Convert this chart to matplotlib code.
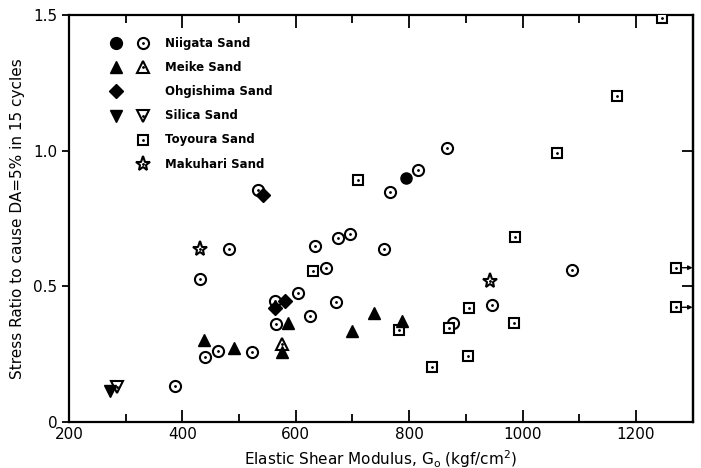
import matplotlib.pyplot as plt

plt.rcParams['font.family'] = ['DejaVu Sans']

# Niigata sand
niigata_open_g = [387, 440, 463, 522, 431, 483, 534, 563, 565, 604, 625, 634, 653,
                  671, 675, 696, 756, 766, 816, 866, 878, 947, 1087]
niigata_open_r = [0.132, 0.24, 0.261, 0.258, 0.526, 0.637, 0.855, 0.445, 0.36, 0.474,
                  0.39, 0.648, 0.568, 0.443, 0.677, 0.691, 0.636, 0.846, 0.928, 1.008,
                  0.363, 0.43, 0.56]
niigata_fill_g = [794]
niigata_fill_r = [0.90]

# Meike sand
meike_fill_g = [438, 491, 575, 587, 700, 738, 787]
meike_fill_r = [0.30, 0.271, 0.258, 0.363, 0.334, 0.40, 0.371]
meike_open_g = [575]
meike_open_r = [0.287]

# Ohgishima sand
ohgi_g = [543, 563, 581]
ohgi_r = [0.836, 0.419, 0.445]

# Silica sand
silica_fill_g = [272]
silica_fill_r = [0.114]
silica_open_g = [285]
silica_open_r = [0.127]

# Toyoura sand (last two are beyond the axis, marked with arrows)
toyoura_g = [630, 709, 783, 840, 871, 904, 906, 985, 987, 1061, 1166, 1246, 1270, 1270]
toyoura_r = [0.556, 0.892, 0.338, 0.203, 0.345, 0.243, 0.42, 0.365, 0.68, 0.992,
             1.201, 1.488, 0.568, 0.422]
toyoura_arrow = [False] * 12 + [True, True]

# Makuhari sand
makuhari_g = [431, 943]
makuhari_r = [0.636, 0.52]

legend_rows = [("o", "o", "Niigata Sand"),
               ("^", "^", "Meike Sand"),
               ("D", None, "Ohgishima Sand"),
               ("v", "v", "Silica Sand"),
               (None, "s", "Toyoura Sand"),
               (None, "*", "Makuhari Sand")]

open_kw = dict(ls='none', mfc='white', mec='black', mew=1.5)
fill_kw = dict(ls='none', color='black')
dot_kw = dict(ls='none', marker='.', color='black', ms=2)


def open_points(ax, g, r, marker, ms):
    ax.plot(g, r, marker=marker, ms=ms, zorder=3, **open_kw)
    ax.plot(g, r, zorder=3.5, **dot_kw)


fig = plt.figure(figsize=(7.01, 4.68), dpi=100)
ax = fig.add_axes([0.0984, 0.0989, 0.8896, 0.8691])

open_points(ax, niigata_open_g, niigata_open_r, 'o', 8)
open_points(ax, toyoura_g, toyoura_r, 's', 7.5)
open_points(ax, makuhari_g, makuhari_r, '*', 11)
open_points(ax, meike_open_g, meike_open_r, '^', 8)
open_points(ax, silica_open_g, silica_open_r, 'v', 8)
ax.plot(niigata_fill_g, niigata_fill_r, marker='o', ms=8, zorder=4, **fill_kw)
ax.plot(meike_fill_g, meike_fill_r, marker='^', ms=8.5, zorder=4, **fill_kw)
ax.plot(ohgi_g, ohgi_r, marker='D', ms=7.5, zorder=4, **fill_kw)
ax.plot(silica_fill_g, silica_fill_r, marker='v', ms=8.5, zorder=4, **fill_kw)

ax.set_xlim(200, 1300)
ax.set_ylim(0, 1.5)

for g, r, a in zip(toyoura_g, toyoura_r, toyoura_arrow):
    if a:
        ax.annotate('', xy=(ax.get_xlim()[1], r), xytext=(g + 12, r),
                    arrowprops=dict(arrowstyle='-|>', color='black', lw=1,
                                    mutation_scale=6, shrinkA=0, shrinkB=0))

# legend drawn by hand: filled column, open column, label
for i, (fm, om, label) in enumerate(legend_rows):
    yy = 0.931 - i * 0.0595
    if fm:
        ax.plot(0.076, yy, marker=fm, ms=8.5 if fm != 'D' else 7.5,
                transform=ax.transAxes, **fill_kw)
    if om:
        ms = 11 if om == '*' else (7.5 if om == 's' else 8)
        ax.plot(0.118, yy, marker=om, ms=ms, transform=ax.transAxes, **open_kw)
        ax.plot(0.118, yy, transform=ax.transAxes, **dot_kw)
    ax.text(0.154, yy, label, transform=ax.transAxes, fontsize=8.5,
            fontweight='semibold', va='center', ha='left')

ax.set_xticks(range(200, 1201, 200))
ax.set_xticks(range(300, 1300, 200), minor=True)
ax.set_yticks([0, 0.5, 1.0, 1.5])
ax.set_yticklabels(['0', '0.5', '1.0', '1.5'])
ax.tick_params(axis='x', which='major', direction='in', length=9, width=1.3,
               top=True, labelsize=11, pad=4)
ax.tick_params(axis='x', which='minor', direction='in', length=6, width=1.3, top=True)
ax.tick_params(axis='y', which='major', direction='out', length=5, width=1.3,
               labelsize=11)
for s in ax.spines.values():
    s.set_linewidth(1.6)

# right side: inward ticks, no labels
right = ax.secondary_yaxis('right')
right.set_yticks([0, 0.5, 1.0, 1.5])
right.tick_params(direction='in', length=8, width=1.3, labelright=False)
right.spines['right'].set_linewidth(1.6)

ax.set_xlabel(r'Elastic Shear Modulus, G$_\mathregular{o}$ (kgf/cm$^\mathregular{2}$)',
              fontsize=11, labelpad=4)
ax.set_ylabel('Stress Ratio to cause DA=5% in 15 cycles', fontsize=11, labelpad=6)

fig.savefig('out.png', dpi=100)
